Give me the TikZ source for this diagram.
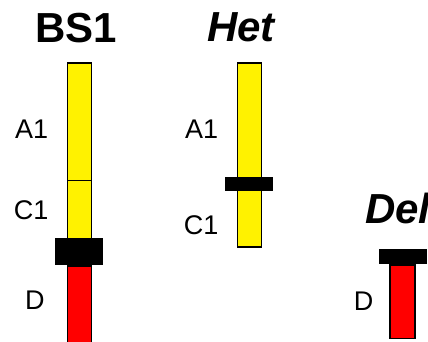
\documentclass[tikz,border=0pt]{standalone}
\usepackage{fontspec}
\setmainfont{Liberation Sans}
\begin{document}
\begin{tikzpicture}[x=1pt,y=-1pt,
  bar/.style={draw=black, line width=1.6pt, inner sep=0pt, anchor=north, minimum width=24pt},
  yellowbar/.style={bar, fill=yellow},
  redbar/.style={bar, fill=red},
  band/.style={fill=black, inner sep=0pt, anchor=north, minimum width=48pt},
  title/.style={font=\bfseries\fontsize{42}{42}\selectfont, anchor=base west, inner sep=0pt},
  ititle/.style={title, font=\bfseries\itshape\fontsize{42}{42}\selectfont},
  lbl/.style={font=\fontsize{27}{27}\selectfont, anchor=base west, inner sep=0pt}
]
\useasboundingbox (0,0) rectangle (428,342);

% BS1: A1 and C1 segments above the band, D below it
\node[title] (tBS) at (35,42.7) {BS1};
\node[yellowbar, minimum height=176pt] (bsY) at (79.3,62) {};
\coordinate (divL) at (68,180);
\coordinate (divR) at (90.6,180);
\draw[line width=1pt] (divL) -- (divR);
\node[redbar, minimum height=82pt] (bsR) at (79.3,265) {};
\node[band, minimum height=27.3pt] (bsB) at (79.3,237.7) {};
\node[lbl] (bsA) at (15,139) {A1};
\node[lbl] (bsC) at (13.7,219) {C1};
\node[lbl] (bsD) at (25,309) {D};

% Het: single yellow bar crossed by a thin band
\node[ititle] (tHet) at (207,41.7) {Het};
\node[yellowbar, minimum height=184pt] (hY) at (249.3,62) {};
\node[band, minimum height=13.3pt] (hB) at (249.3,177) {};
\node[lbl] (hA) at (185,139) {A1};
\node[lbl] (hC) at (183.7,234) {C1};

% Del: red bar capped by a band
\node[ititle] (tDel) at (365,223.5) {Del};
\node[redbar, minimum height=73.4pt, minimum width=25pt] (dR) at (402.5,264.3) {};
\node[band, minimum height=15.4pt] (dB) at (402.5,248.3) {};
\node[lbl] (dD) at (353.6,310) {D};
\end{tikzpicture}
\end{document}
